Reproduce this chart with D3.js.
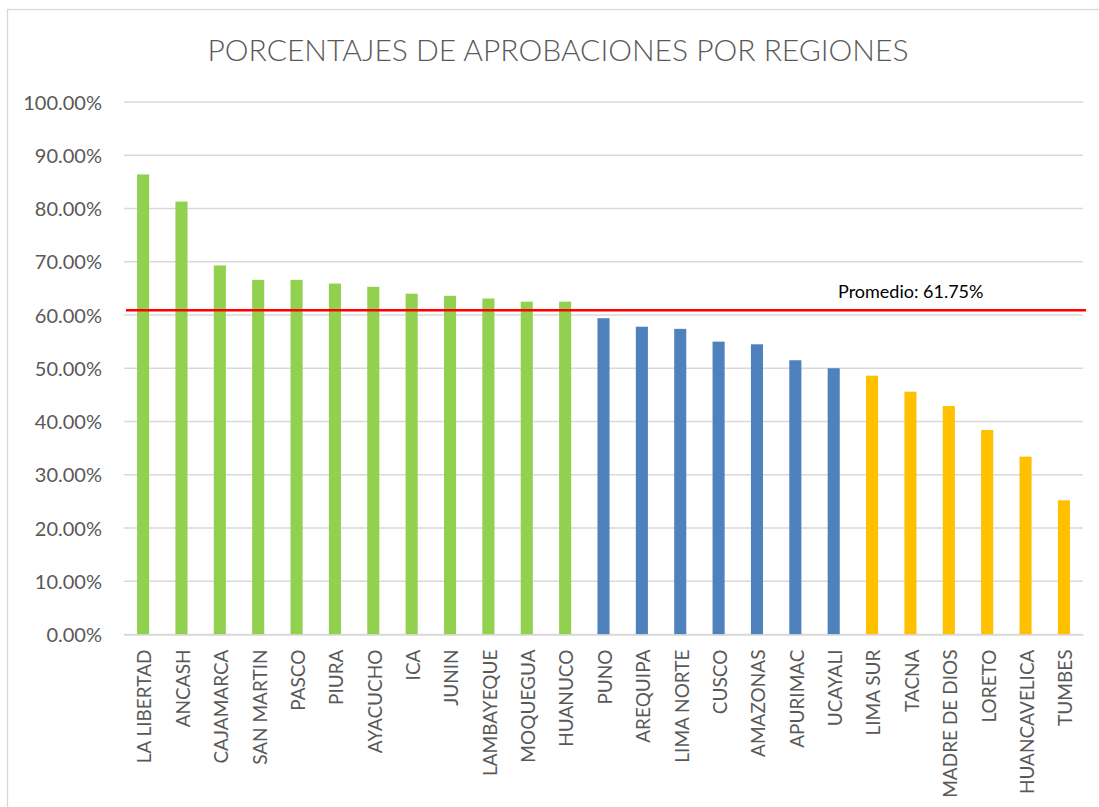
<!DOCTYPE html>
<html>
<head>
<meta charset="utf-8">
<script src="https://cdn.jsdelivr.net/npm/d3@7"></script>
<style>
  html, body { margin: 0; padding: 0; background: #fff; }
  svg { display: block; }
</style>
</head>
<body>
<svg id="chart" width="1099" height="807"></svg>
<script>
// ---- data ----
const regions = ["LA LIBERTAD","ANCASH","CAJAMARCA","SAN MARTIN","PASCO","PIURA","AYACUCHO","ICA","JUNIN","LAMBAYEQUE","MOQUEGUA","HUANUCO","PUNO","AREQUIPA","LIMA NORTE","CUSCO","AMAZONAS","APURIMAC","UCAYALI","LIMA SUR","TACNA","MADRE DE DIOS","LORETO","HUANCAVELICA","TUMBES"];
const approvalPct = [86.4,81.3,69.3,66.6,66.6,65.9,65.3,64.0,63.6,63.1,62.5,62.5,59.4,57.8,57.4,55.0,54.5,51.5,50.0,48.6,45.6,42.9,38.4,33.4,25.2];
const groups = ["alto","alto","alto","alto","alto","alto","alto","alto","alto","alto","alto","alto","medio","medio","medio","medio","medio","medio","medio","bajo","bajo","bajo","bajo","bajo","bajo"];
const yTicks = [0,10,20,30,40,50,60,70,80,90,100];
const promedioLine = 60.9;          // position of the red line as drawn
const promedioLabel = "Promedio: 61.75%";
const title = "PORCENTAJES DE APROBACIONES POR REGIONES";

// ---- layout ----
const FONT = "Lato, 'Open Sans', sans-serif";
const margin = {left: 124, right: 1099 - 1083, top: 102, bottom: 807 - 634.5};
const W = 1099, H = 807;
const svg = d3.select("#chart");

const groupColor = d3.scaleOrdinal().domain(["alto","medio","bajo"]).range(["#92D050","#4F81BD","#FFC000"]);

const x = d3.scaleBand().domain(regions).range([margin.left, W - margin.right]).paddingInner(0.685).paddingOuter(0.34);
const y = d3.scaleLinear().domain([0, 100]).range([H - margin.bottom, margin.top]);

// chart border
svg.append("rect").attr("x", 7.5).attr("y", 9.5).attr("width", 1100).attr("height", 810)
  .attr("fill", "#fff").attr("stroke", "#d9d9d9").attr("stroke-width", 1.3);

// title
svg.append("text").attr("x", 558).attr("y", 61).attr("text-anchor", "middle")
  .attr("font-family", FONT).attr("font-size", 30).attr("font-weight", 300)
  .attr("fill", "#595959").text(title);

// gridlines
svg.append("g").selectAll("line").data(yTicks).join("line")
  .attr("x1", margin.left).attr("x2", W - margin.right)
  .attr("y1", d => y(d)).attr("y2", d => y(d))
  .attr("stroke", "#d9d9d9").attr("stroke-width", 1.4);

// y axis labels
const yAxis = d3.axisLeft(y).tickValues(yTicks).tickSize(0).tickPadding(0)
  .tickFormat(d => d3.format(".2f")(d) + "%");
const gy = svg.append("g").attr("transform", `translate(${102},0)`).call(yAxis);
gy.select(".domain").remove();
gy.selectAll("text").attr("font-family", FONT).attr("font-size", 20).attr("fill", "#595959").attr("dy", "0.35em");

// bars
svg.append("g").selectAll("rect").data(regions).join("rect")
  .attr("x", d => x(d)).attr("width", x.bandwidth())
  .attr("y", (d, i) => y(approvalPct[i]))
  .attr("height", (d, i) => y(0) - y(approvalPct[i]))
  .attr("fill", (d, i) => groupColor(groups[i]));

// x axis
const xAxis = d3.axisBottom(x).tickSize(0).tickPadding(0);
const gx = svg.append("g").attr("transform", `translate(0,${y(0)})`).call(xAxis);
gx.select(".domain").attr("stroke", "#d9d9d9").attr("stroke-width", 1.4);
gx.selectAll("text")
  .attr("font-family", FONT).attr("font-size", 19).attr("fill", "#595959")
  .attr("text-anchor", "end")
  .attr("transform", "translate(1.5,15) rotate(-90)")
  .attr("x", 0).attr("y", 0).attr("dy", "0.36em");

// average line
svg.append("line").attr("x1", margin.left + 2).attr("x2", W - margin.right + 3)
  .attr("y1", y(promedioLine)).attr("y2", y(promedioLine))
  .attr("stroke", "#FF0000").attr("stroke-width", 2.6);
svg.append("text").attr("x", 838).attr("y", 298)
  .attr("font-family", FONT).attr("font-size", 18).attr("fill", "#000").text(promedioLabel);
</script>
</body>
</html>
